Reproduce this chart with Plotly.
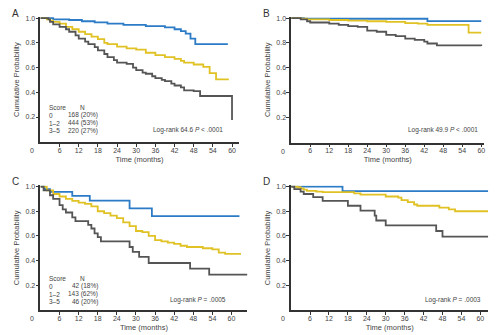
import plotly.graph_objects as go

# ---------------- data (months, cumulative probability) ----------------
# Panel A
a_blue_t = [0, 4, 9, 13, 17, 21, 26, 33, 39, 42, 44, 45.5, 47, 48.5, 58.7]
a_blue_p = [1.0, 0.99, 0.985, 0.975, 0.965, 0.955, 0.945, 0.935, 0.925, 0.91, 0.895, 0.875, 0.835, 0.79, 0.79]
a_yel_t = [0, 2, 3, 4, 6, 8, 10, 12, 14, 16, 18, 20, 21, 24, 27, 30, 33, 36, 39, 42, 44, 45, 48, 51, 53, 55, 59]
a_yel_p = [1.0, 0.99, 0.98, 0.97, 0.955, 0.93, 0.91, 0.89, 0.87, 0.85, 0.83, 0.80, 0.79, 0.77, 0.755, 0.745, 0.72, 0.70, 0.685, 0.67, 0.655, 0.64, 0.625, 0.605, 0.555, 0.505, 0.505]
a_gry_t = [0, 2.5, 3, 4, 6, 8, 9, 11, 12, 14, 15, 17, 18, 20, 21, 23, 24, 27, 29, 30, 32, 33, 35, 36, 38, 39, 41, 42, 44, 45, 48, 50, 59.8, 60]
a_gry_p = [1.0, 0.99, 0.97, 0.95, 0.93, 0.91, 0.89, 0.86, 0.835, 0.81, 0.79, 0.765, 0.74, 0.71, 0.685, 0.66, 0.64, 0.63, 0.60, 0.58, 0.56, 0.55, 0.53, 0.515, 0.50, 0.49, 0.47, 0.455, 0.44, 0.415, 0.41, 0.37, 0.37, 0.175]

# Panel B
b_blue_t = [0, 4, 43, 60]
b_blue_p = [1.0, 0.995, 0.976, 0.976]
b_yel_t = [0, 3, 5, 12, 18, 24, 30, 36, 40, 43, 56, 60]
b_yel_p = [1.0, 0.995, 0.99, 0.985, 0.98, 0.975, 0.97, 0.96, 0.955, 0.945, 0.883, 0.883]
b_gry_t = [0, 3, 5, 6, 12, 15, 18, 21, 24, 27, 30, 33, 36, 39, 42, 43, 46, 60]
b_gry_p = [1.0, 0.99, 0.975, 0.965, 0.955, 0.945, 0.935, 0.93, 0.90, 0.89, 0.865, 0.855, 0.835, 0.825, 0.81, 0.795, 0.78, 0.775]

# Panel C
c_blue_t = [0, 1.3, 3, 10, 15.5, 28, 35, 62.5]
c_blue_p = [1.0, 0.98, 0.957, 0.925, 0.887, 0.823, 0.76, 0.76]
c_yel_t = [0, 2, 4, 6, 8, 10, 12, 14, 16, 18, 20, 22, 24, 26, 28, 30, 32, 34, 36, 38, 40, 42, 44, 46, 51, 54, 56, 58, 63]
c_yel_p = [1.0, 0.97, 0.94, 0.92, 0.90, 0.885, 0.87, 0.86, 0.84, 0.80, 0.785, 0.765, 0.745, 0.71, 0.68, 0.64, 0.63, 0.60, 0.565, 0.555, 0.545, 0.535, 0.52, 0.51, 0.50, 0.49, 0.465, 0.455, 0.455]
c_gry_t = [0, 1, 3, 4, 6, 7, 8, 10, 11, 15, 16, 17, 18, 19, 28, 29, 31, 34, 47, 53, 65]
c_gry_p = [1.0, 0.97, 0.93, 0.90, 0.85, 0.815, 0.79, 0.75, 0.72, 0.69, 0.66, 0.62, 0.59, 0.555, 0.51, 0.47, 0.43, 0.38, 0.335, 0.285, 0.285]

# Panel D
d_blue_t = [0, 16.3, 62.5]
d_blue_p = [1.0, 0.963, 0.963]
d_yel_t = [0, 2, 3, 4, 5, 8, 10, 20, 22, 30, 34, 35, 37, 39, 40, 47, 50, 52, 62.5]
d_yel_p = [1.0, 0.995, 0.985, 0.975, 0.965, 0.96, 0.955, 0.945, 0.935, 0.92, 0.91, 0.89, 0.875, 0.855, 0.845, 0.83, 0.815, 0.80, 0.80]
d_gry_t = [0, 1, 3, 4, 7, 10, 18, 22, 26.5, 27, 30, 46, 48, 62.5]
d_gry_p = [1.0, 0.98, 0.96, 0.94, 0.915, 0.885, 0.845, 0.805, 0.765, 0.725, 0.685, 0.64, 0.595, 0.595]

x_ticks = [6, 12, 18, 24, 30, 36, 42, 48, 54, 60]
y_ticks = [0.2, 0.4, 0.6, 0.8, 1.0]
y_tick_text = ["0.2", "0.4", "0.6", "0.8", "1.0"]

BLUE = "#2b7bc6"
YEL = "#e1c224"
GRY = "#555555"
FONT = "Liberation Sans, Arial, sans-serif"
W, H = 500, 335

def px(x):
    return x / W

def py(y):
    return 1 - y / H

# panel geometry in pixels: (left, right, top, bottom, xmax)
panels = {
    "A": dict(l=40.5, r=239.2, t=15.0, b=141.2, xmax=62.1),
    "B": dict(l=291.8, r=485.4, t=15.0, b=141.4, xmax=61.0),
    "C": dict(l=40.5, r=247.9, t=184.5, b=310.3, xmax=65.0),
    "D": dict(l=291.7, r=489.2, t=184.5, b=310.3, xmax=62.5),
}

series = {
    "A": [(a_blue_t, a_blue_p, BLUE), (a_yel_t, a_yel_p, YEL), (a_gry_t, a_gry_p, GRY)],
    "B": [(b_blue_t, b_blue_p, BLUE), (b_yel_t, b_yel_p, YEL), (b_gry_t, b_gry_p, GRY)],
    "C": [(c_blue_t, c_blue_p, BLUE), (c_yel_t, c_yel_p, YEL), (c_gry_t, c_gry_p, GRY)],
    "D": [(d_blue_t, d_blue_p, BLUE), (d_yel_t, d_yel_p, YEL), (d_gry_t, d_gry_p, GRY)],
}

fig = go.Figure()
layout = dict(
    width=W, height=H, margin=dict(l=0, r=0, t=0, b=0),
    paper_bgcolor="white", plot_bgcolor="white", showlegend=False,
    font=dict(family=FONT, size=7, color="#444"),
)
annotations = []

for i, (name, g) in enumerate(panels.items()):
    n = i + 1
    xa = "xaxis" if n == 1 else f"xaxis{n}"
    ya = "yaxis" if n == 1 else f"yaxis{n}"
    xr = "x" if n == 1 else f"x{n}"
    yr = "y" if n == 1 else f"y{n}"
    for t, p, c in series[name]:
        fig.add_trace(go.Scatter(x=t, y=p, mode="lines", line=dict(color=c, width=1.8, shape="hv"),
                                 xaxis=xr, yaxis=yr, hoverinfo="skip"))
    layout[xa] = dict(domain=[px(g["l"]), px(g["r"])], range=[0, g["xmax"]], anchor=yr,
                      tickvals=x_ticks, ticks="outside", ticklen=3, tickwidth=1, tickcolor="#333",
                      showline=True, linecolor="#333", linewidth=1.5, showgrid=False, zeroline=False,
                      tickfont=dict(size=7, color="#444"), ticklabelstandoff=-3,
                      title=dict(text="Time (months)", font=dict(size=7.5, color="#444"), standoff=4))
    layout[ya] = dict(domain=[py(g["b"]), py(g["t"])], range=[-0.005, 1.01], anchor=xr,
                      tickvals=y_ticks, ticktext=y_tick_text, ticks="outside", ticklen=3, tickwidth=1,
                      tickcolor="#333", showline=True, linecolor="#333", linewidth=1.5,
                      showgrid=False, zeroline=False, tickfont=dict(size=7, color="#444"),
                      ticklabelstandoff=-1,
                      title=dict(text="Cumulative Probability", font=dict(size=7.5, color="#444"), standoff=5))
    # origin label "0"
    annotations.append(dict(x=px(g["l"] - 8.5), y=py(g["b"] + 8.5), xref="paper", yref="paper",
                            text="0", showarrow=False, font=dict(size=7, color="#444"),
                            xanchor="center", yanchor="middle"))
    # panel letter
    annotations.append(dict(x=px(g["l"] - 25), y=py(g["t"] - 3.5), xref="paper", yref="paper",
                            text=name, showarrow=False, font=dict(size=10, color="#333"),
                            xanchor="center", yanchor="middle"))

# score tables
def score_table(y0, rows):
    out = []
    out.append(dict(x=px(47.5), y=py(y0), text="Score", xanchor="left"))
    out.append(dict(x=px(83), y=py(y0), text="N", xanchor="center"))
    for k, (s, nn) in enumerate(rows):
        yy = y0 + 7.9 * (k + 1)
        out.append(dict(x=px(47.5), y=py(yy), text=s, xanchor="left"))
        out.append(dict(x=px(100.5), y=py(yy), text=nn, xanchor="right"))
    for o in out:
        o.update(xref="paper", yref="paper", showarrow=False, yanchor="middle",
                 font=dict(size=6.5, color="#444"))
    return out

annotations += score_table(106, [("0", "168 (20%)"), ("1–2", "444 (53%)"), ("3–5", "220 (27%)")])
annotations += score_table(278, [("0", "42 (18%)"), ("1–2", "143 (62%)"), ("3–5", "46 (20%)")])

logranks = [
    (225.5, 128.7, "Log-rank 64.6 <i>P</i> < .0001"),
    (481.0, 129.0, "Log-rank 49.9 <i>P</i> < .0001"),
    (228.0, 299.7, "Log-rank <i>P</i> = .0005"),
    (483.5, 299.7, "Log-rank <i>P</i> = .0003"),
]
for x, y, t in logranks:
    annotations.append(dict(x=px(x), y=py(y), xref="paper", yref="paper", text=t, showarrow=False,
                            xanchor="right", yanchor="middle", font=dict(size=6.5, color="#444")))

layout["annotations"] = annotations
fig.update_layout(**layout)
fig.write_html("out.html")
